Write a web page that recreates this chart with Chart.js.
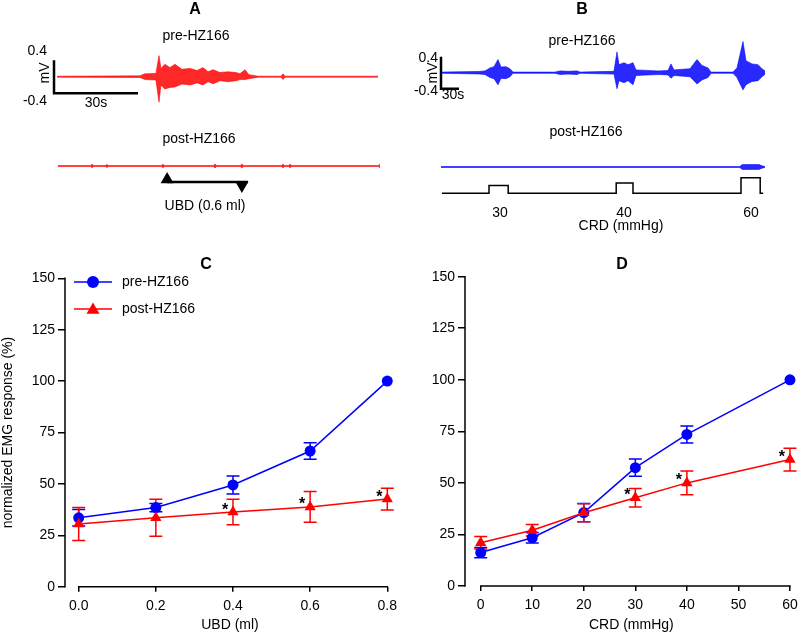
<!DOCTYPE html>
<html>
<head>
<meta charset="utf-8">
<script src="https://cdn.jsdelivr.net/npm/chart.js@4.4.1/dist/chart.umd.min.js"></script>
<style>
  body { margin: 0; background: #fff; width: 800px; height: 634px; position: relative; overflow: hidden;
         font-family: "Liberation Sans", Arial, sans-serif; }
  canvas { position: absolute; }
  .lbl { position: absolute; transform: translate(-50%, -50%); font-size: 14px; line-height: 1; white-space: nowrap; color: #000; }
  .right { transform: translate(-100%, -50%); }
  .rot { transform: translate(-50%, -50%) rotate(-90deg); }
  .panel { font-weight: bold; font-size: 16px; }
</style>
</head>
<body>
<canvas id="cA" width="400" height="230" style="left:0;top:0"></canvas>
<canvas id="cB" width="400" height="230" style="left:400px;top:0"></canvas>
<canvas id="cC" width="400" height="384" style="left:0;top:250px"></canvas>
<canvas id="cD" width="400" height="384" style="left:400px;top:250px"></canvas>

<!-- panel A labels -->
<div class="lbl panel" style="left:195px;top:9px">A</div>
<div class="lbl" style="left:196px;top:35px">pre-HZ166</div>
<div class="lbl right" style="left:47px;top:50px">0.4</div>
<div class="lbl right" style="left:47px;top:100px">-0.4</div>
<div class="lbl rot" style="left:44px;top:73px">mV</div>
<div class="lbl" style="left:96px;top:102px">30s</div>
<div class="lbl" style="left:199px;top:138px">post-HZ166</div>
<div class="lbl" style="left:205px;top:205px">UBD (0.6 ml)</div>
<!-- panel B labels -->
<div class="lbl panel" style="left:582px;top:9px">B</div>
<div class="lbl" style="left:582px;top:40px">pre-HZ166</div>
<div class="lbl right" style="left:438px;top:57px">0.4</div>
<div class="lbl right" style="left:438px;top:90px">-0.4</div>
<div class="lbl rot" style="left:432px;top:73px">mV</div>
<div class="lbl" style="left:453px;top:94px">30s</div>
<div class="lbl" style="left:586px;top:131px">post-HZ166</div>
<div class="lbl" style="left:500px;top:212px">30</div>
<div class="lbl" style="left:624px;top:212px">40</div>
<div class="lbl" style="left:751px;top:212px">60</div>
<div class="lbl" style="left:621px;top:225px">CRD (mmHg)</div>
<!-- panel letters C, D -->
<div class="lbl panel" style="left:206px;top:264px">C</div>
<div class="lbl panel" style="left:622px;top:264px">D</div>

<script>
// ---- Panel C: UBD dose response ----
const ubdVolumes = [0.0, 0.2, 0.4, 0.6, 0.8];
const ubdPre = [33.5, 38.5, 49.5, 66, 100];
const ubdPreErr = [4, 2, 4.4, 4, 0];
const ubdPost = [30.5, 33.5, 36.3, 38.8, 42.6];
const ubdPostErr = [8, 9, 6.2, 7.5, 5.3];
const ubdStars = [false, false, true, true, true];
const ubdTicks = [0, 0.2, 0.4, 0.6, 0.8];

// ---- Panel D: CRD pressure response ----
const crdPressures = [0, 10, 20, 30, 40, 60];
const crdPre = [16.2, 23.4, 35.6, 57.4, 73.5, 100];
const crdPreErr = [2.5, 2.5, 4.4, 4.2, 4.1, 0];
const crdPost = [21, 27, 35.5, 42.8, 50, 61.3];
const crdPostErr = [3, 2.8, 4.4, 4.5, 5.8, 5.5];
const crdStars = [false, false, false, true, true, true];
const crdTicks = [0, 10, 20, 30, 40, 50, 60];

const responseTicks = [0, 25, 50, 75, 100, 125, 150];

// ---- Panel A: EMG envelope (time s, mV) ----
const emgApreT  = [1.1, 30.7, 32.5, 36.4, 37.5, 38.2, 39.6, 41.4, 43.2, 45.7, 48.6, 51.1, 53.2, 55, 56.8, 59.3, 62.1, 65, 66.4, 68.2, 69.6, 72.9, 81.1, 81.8, 82.5, 115.7];
const emgApreUp = [0.012, 0.02, 0.07, 0.08, 0.51, 0.2, 0.3, 0.22, 0.3, 0.18, 0.2, 0.15, 0.22, 0.12, 0.17, 0.1, 0.12, 0.1, 0.07, 0.17, 0.05, 0.012, 0.012, 0.07, 0.012, 0.012];
const emgApreDn = [-0.012, -0.02, -0.07, -0.08, -0.62, -0.2, -0.3, -0.26, -0.25, -0.18, -0.2, -0.15, -0.2, -0.12, -0.17, -0.1, -0.12, -0.1, -0.07, -0.07, -0.05, -0.012, -0.012, -0.07, -0.012, -0.012];
const emgApostT   = [1.4, 13, 13.6, 14.2, 18.3, 18.9, 19.5, 38.3, 38.9, 39.5, 56.9, 57.5, 58.1, 66.5, 67.1, 67.7, 81.2, 81.8, 82.4, 83.7, 84.3, 84.9, 115.8, 116.4];
const emgApostAmp = [0.01, 0.01, 0.04, 0.01, 0.01, 0.035, 0.01, 0.01, 0.04, 0.01, 0.01, 0.05, 0.01, 0.01, 0.05, 0.01, 0.01, 0.045, 0.01, 0.01, 0.045, 0.01, 0.01, 0.05];
const scaleBarAT  = [0, 0, 30];
const scaleBarAMv = [0.4, -0.4, -0.4];
const ubdMarkT  = [40.4, 67.1];
const ubdMarkMv = [-2.49, -2.64];
const ubdLineT  = [40.4, 69.3];
const ubdLineMv = [-2.55, -2.55];

// ---- Panel B: EMG envelope (time s, mV) and CRD steps (mmHg) ----
const emgBpreT  = [1.7, 61.7, 73.3, 81.7, 88.3, 95, 100, 108.3, 115, 120, 190, 198.3, 211.7, 226.7, 231.7, 288.3, 293.3, 296.7, 305, 311.7, 320, 325, 361.7, 378.3, 383.3, 388.3, 415, 426.7, 435, 445, 450, 486.7, 493.3, 503.3, 508.3, 518.3, 528.3, 535, 540];
const emgBpreUp = [0.015, 0.03, 0.045, 0.12, 0.15, 0.33, 0.14, 0.15, 0.1, 0.015, 0.015, 0.045, 0.035, 0.045, 0.015, 0.035, 0.52, 0.2, 0.25, 0.2, 0.25, 0.07, 0.045, 0.055, 0.22, 0.07, 0.1, 0.33, 0.18, 0.12, 0.015, 0.015, 0.12, 0.78, 0.3, 0.22, 0.2, 0.1, 0.04];
const emgBpreDn = [-0.015, -0.03, -0.045, -0.12, -0.15, -0.3, -0.14, -0.15, -0.1, -0.015, -0.015, -0.045, -0.035, -0.045, -0.015, -0.035, -0.4, -0.2, -0.25, -0.2, -0.3, -0.07, -0.045, -0.055, -0.14, -0.07, -0.1, -0.28, -0.18, -0.12, -0.015, -0.015, -0.12, -0.43, -0.3, -0.22, -0.2, -0.1, -0.04];
const emgBpostT   = [0, 498, 502, 530, 535, 540];
const emgBpostAmp = [0.012, 0.012, 0.06, 0.06, 0.03, 0.01];
const crdStepT = [1.5, 80, 80, 112, 112, 292, 292, 320, 320, 500, 500, 532, 532, 537];
const crdStepP = [0, 0, 30, 30, 0, 0, 40, 40, 0, 0, 60, 60, 0, 0];
const scaleBarBT  = [0, 0, 30];
const scaleBarBMv = [0.4, -0.4, -0.4];

const FONT = '"Liberation Sans", Arial, sans-serif';
const BLUE = '#0000ff';
const RED = '#ff0000';
const EMG_RED = ['rgba(255,0,0,0.95)', 'rgba(255,10,10,0.88)'];
const EMG_BLUE = ['rgba(0,0,255,0.95)', 'rgba(10,10,255,0.88)'];

const pts = (xs, ys, off = 0) => xs.map((v, i) => ({ x: v, y: ys[i] + off }));

function band(color, t, up, dn, off) {
  return [
    { data: pts(t, up, off), borderColor: color[0], backgroundColor: color[1], borderWidth: 0.6, pointRadius: 0, fill: false, tension: 0 },
    { data: pts(t, dn, off), borderColor: color[0], backgroundColor: color[1], borderWidth: 0.6, pointRadius: 0, fill: '-1', tension: 0 }
  ];
}
function blackLine(data, w) {
  return { data, borderColor: '#000', borderWidth: w, pointRadius: 0, fill: false, tension: 0 };
}

function traceChart(id, datasets, xr, yr, extraScales) {
  return new Chart(document.getElementById(id), {
    type: 'line',
    data: { datasets },
    options: {
      responsive: false, animation: false, events: [],
      layout: { padding: 0, autoPadding: false },
      plugins: { legend: { display: false }, tooltip: { enabled: false } },
      scales: Object.assign({
        x: { type: 'linear', display: false, min: xr[0], max: xr[1] },
        y: { display: false, min: yr[0], max: yr[1] }
      }, extraScales || {})
    }
  });
}

// Panel A: 2.8 px per s, 41.25 px per mV
traceChart('cA', [
  ...band(EMG_RED, emgApreT, emgApreUp, emgApreDn, 0),
  ...band(EMG_RED, emgApostT, emgApostAmp, emgApostAmp.map(v => -v), -2.165),
  blackLine(pts(scaleBarAT, scaleBarAMv), 2.5),
  blackLine(pts(ubdLineT, ubdLineMv), 2.5),
  { data: pts(ubdMarkT, ubdMarkMv), showLine: false, pointStyle: 'triangle', pointRadius: 7.5,
    pointRotation: [0, 180], pointBackgroundColor: '#000', pointBorderColor: '#000', pointBorderWidth: 0 }
], [-19.29, 123.57], [-3.716, 1.859]);

// Panel B: 0.6 px per s, 40 px per mV
traceChart('cB', [
  ...band(EMG_BLUE, emgBpreT, emgBpreUp, emgBpreDn, 0),
  ...band(EMG_BLUE, emgBpostT, emgBpostAmp, emgBpostAmp.map(v => -v), -2.3575),
  blackLine(pts(scaleBarBT, scaleBarBMv), 2.5),
  Object.assign(blackLine(pts(crdStepT, crdStepP), 1.5), { yAxisID: 'p' })
], [-68.33, 598.33], [-3.9325, 1.8175], {
  p: { display: false, min: -141.15, max: 743.46 }
});

// error bars, axis lines, stars and legend for C and D
const extrasPlugin = {
  id: 'extras',
  beforeDatasetsDraw(chart) {
    const { ctx, scales: { x, y }, chartArea } = chart;
    ctx.save();
    ctx.strokeStyle = '#000';
    ctx.lineWidth = 1.5;
    ctx.beginPath();
    ctx.moveTo(chartArea.left, y.getPixelForValue(y.max) - 0.75);
    ctx.lineTo(chartArea.left, y.getPixelForValue(0) + 0.75);
    const xa = x.ticks[0].value, xb = x.ticks[x.ticks.length - 1].value;
    ctx.moveTo(x.getPixelForValue(xa) - 0.75, y.getPixelForValue(0));
    ctx.lineTo(x.getPixelForValue(xb) + 0.75, y.getPixelForValue(0));
    ctx.stroke();
    chart.data.datasets.forEach(ds => {
      ctx.strokeStyle = ds.borderColor;
      ctx.lineWidth = 1.5;
      ds.data.forEach((p, j) => {
        const e = ds.errors[j];
        if (!e) return;
        const px = x.getPixelForValue(p.x);
        const t = y.getPixelForValue(p.y + e), b = y.getPixelForValue(p.y - e);
        ctx.beginPath();
        ctx.moveTo(px, t); ctx.lineTo(px, b);
        ctx.moveTo(px - 6.5, t); ctx.lineTo(px + 6.5, t);
        ctx.moveTo(px - 6.5, b); ctx.lineTo(px + 6.5, b);
        ctx.stroke();
      });
    });
    ctx.restore();
  },
  afterDatasetsDraw(chart, args, opts) {
    const { ctx, scales: { x, y } } = chart;
    ctx.save();
    ctx.fillStyle = '#000';
    ctx.font = 'bold 16px ' + FONT;
    ctx.textAlign = 'center';
    ctx.textBaseline = 'alphabetic';
    chart.data.datasets.forEach(ds => {
      if (!ds.stars) return;
      ds.data.forEach((p, j) => {
        if (ds.stars[j]) ctx.fillText('*', x.getPixelForValue(p.x) - 8, y.getPixelForValue(p.y) + 2.5);
      });
    });
    if (opts.legend) {
      const L = opts.legend;
      chart.data.datasets.forEach((ds, i) => {
        const ly = L.y + i * L.gap;
        ctx.strokeStyle = ds.borderColor;
        ctx.lineWidth = 1.5;
        ctx.beginPath();
        ctx.moveTo(L.x, ly); ctx.lineTo(L.x + 38, ly);
        ctx.stroke();
        ctx.fillStyle = ds.borderColor;
        Chart.helpers.drawPoint(ctx, { pointStyle: ds.pointStyle, radius: ds.pointStyle === 'circle' ? 6 : 7.5, rotation: 0, borderWidth: 0 }, L.x + 19, ly + (ds.pointStyle === 'circle' ? 0 : 1));
        ctx.fillStyle = '#000';
        ctx.font = '14px ' + FONT;
        ctx.textAlign = 'left';
        ctx.textBaseline = 'middle';
        ctx.fillText(ds.label, L.x + 48, ly);
      });
    }
    ctx.restore();
  }
};

function doseChart(id, c) {
  const tickFont = { size: 14, family: FONT };
  return new Chart(document.getElementById(id), {
    type: 'line',
    data: {
      datasets: [
        { label: 'pre-HZ166', data: pts(c.xs, c.pre), errors: c.preErr, borderColor: BLUE, backgroundColor: BLUE,
          pointBackgroundColor: BLUE, pointBorderColor: BLUE, pointBorderWidth: 0, borderWidth: 1.5,
          pointStyle: 'circle', pointRadius: 5.5, tension: 0, order: 1, clip: false },
        { label: 'post-HZ166', data: pts(c.xs, c.post), errors: c.postErr, stars: c.stars, borderColor: RED, backgroundColor: RED,
          pointBackgroundColor: RED, pointBorderColor: RED, pointBorderWidth: 0, borderWidth: 1.5,
          pointStyle: 'triangle', pointRadius: 6.5, tension: 0, order: 0, clip: false }
      ]
    },
    options: {
      responsive: false, animation: false, events: [],
      layout: { padding: { top: c.top, right: c.right, left: 0, bottom: 0 }, autoPadding: false },
      plugins: { legend: { display: false }, tooltip: { enabled: false }, extras: { legend: c.legend } },
      scales: {
        x: {
          type: 'linear', min: c.xMin, max: c.xMax,
          afterBuildTicks: s => { s.ticks = c.ticks.map(v => ({ value: v })); },
          afterFit: s => { s.height = c.bottomH; s.paddingLeft = 0; s.paddingRight = 0; },
          grid: { drawOnChartArea: false, drawTicks: true, tickLength: 5, color: '#000', lineWidth: 1.5 },
          border: { display: false },
          ticks: { color: '#000', font: tickFont, padding: 6, maxRotation: 0, autoSkip: false, callback: c.fmt },
          title: { display: true, text: c.xTitle, color: '#000', font: tickFont, padding: 0 }
        },
        y: {
          min: 0, max: 150,
          afterBuildTicks: s => { s.ticks = responseTicks.map(v => ({ value: v })); },
          afterFit: s => { s.width = 65; s.paddingTop = 0; s.paddingBottom = 0; },
          grid: { drawOnChartArea: false, drawTicks: true, tickLength: 7, color: '#000', lineWidth: 1.5 },
          border: { display: false },
          ticks: { color: '#000', font: tickFont, padding: 3 },
          title: { display: !!c.yTitle, text: c.yTitle || '', color: '#000', font: tickFont, padding: 0 }
        }
      }
    },
    plugins: [extrasPlugin]
  });
}

doseChart('cC', {
  xs: ubdVolumes, pre: ubdPre, preErr: ubdPreErr, post: ubdPost, postErr: ubdPostErr, stars: ubdStars,
  ticks: ubdTicks, xMin: -0.0355, xMax: 0.82, right: 5, fmt: v => v.toFixed(1), xTitle: 'UBD (ml)',
  yTitle: 'normalized EMG response (%)', top: 28.3, bottomH: 47.3,
  legend: { x: 74, y: 32, gap: 27 }
});

doseChart('cD', {
  xs: crdPressures, pre: crdPre, preErr: crdPreErr, post: crdPost, postErr: crdPostErr, stars: crdStars,
  ticks: crdTicks, xMin: -3.046, xMax: 61.5, right: 2.3, fmt: v => String(v), xTitle: 'CRD (mmHg)',
  yTitle: null, top: 26.7, bottomH: 48, legend: null
});
</script>
</body>
</html>
